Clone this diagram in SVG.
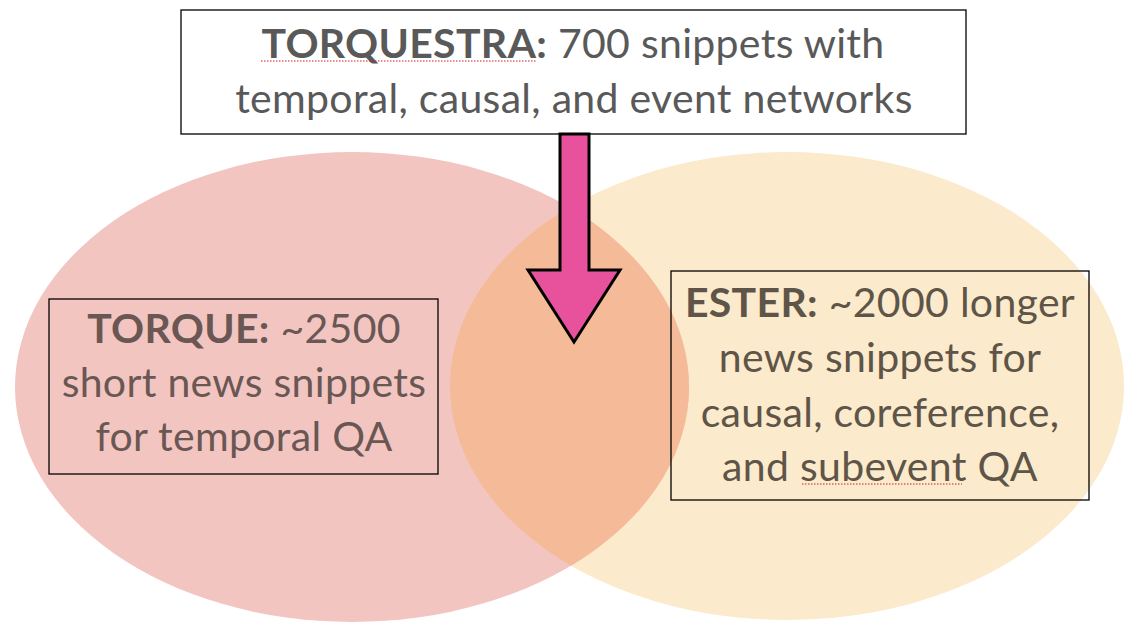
<svg xmlns="http://www.w3.org/2000/svg" width="1138" height="634" viewBox="0 0 1138 634">
<style>
.t{font-family:Lato,"Noto Sans","DejaVu Sans",sans-serif;font-size:41px;letter-spacing:0.3px;text-anchor:middle}
.b{font-weight:bold}
.box{fill:none;stroke:#000;stroke-width:1.3}
.sp{stroke:#d02020;stroke-width:1.2;stroke-dasharray:1.5 1.5;fill:none}
</style>
<defs>
<clipPath id="clipL"><ellipse cx="352" cy="387" rx="337" ry="235"/></clipPath>
</defs>
<rect width="1138" height="634" fill="#fff"/>
<g id="ester-set"><ellipse cx="787" cy="386" rx="337" ry="234" fill="#fbeacb"/></g>
<g id="torque-set"><ellipse cx="352" cy="387" rx="337" ry="235" fill="#f2c5c1"/></g>
<g id="overlap"><ellipse cx="787" cy="386" rx="337" ry="234" fill="#f5bb98" clip-path="url(#clipL)"/></g>
<g id="torquestra">
<rect x="181" y="10" width="785" height="124" fill="#fff" stroke="#000" stroke-width="1.3"/>
<text class="t" x="573" y="58" fill="#595959"><tspan class="b">TORQUESTRA:</tspan> 700 snippets with</text>
<text class="t" x="574" y="113" fill="#595959">temporal, causal, and event networks</text>
<path class="sp" d="M261 61H536"/>
</g>
<g id="connectors">
<path d="M560 134V270H528L574 342L620 270H589V134Z" fill="#e8529c" stroke="#000" stroke-width="3" stroke-linejoin="miter"/>
</g>
<g id="torque">
<rect class="box" x="49" y="299" width="389" height="175"/>
<text class="t" x="244" y="343" fill="#6a5754"><tspan class="b">TORQUE:</tspan> ~2500</text>
<text class="t" x="244" y="397" fill="#6a5754">short news snippets</text>
<text class="t" x="244" y="451" fill="#6a5754">for temporal QA</text>
</g>
<g id="ester">
<rect class="box" x="671" y="271" width="418" height="229"/>
<text class="t" x="880" y="317" fill="#5e5548"><tspan class="b">ESTER:</tspan> ~2000 longer</text>
<text class="t" x="880" y="372" fill="#5e5548">news snippets for</text>
<text class="t" x="880" y="427" fill="#5e5548">causal, coreference,</text>
<text class="t" x="880" y="481" fill="#5e5548">and subevent QA</text>
<path class="sp" d="M802 484H962"/>
</g>
</svg>
